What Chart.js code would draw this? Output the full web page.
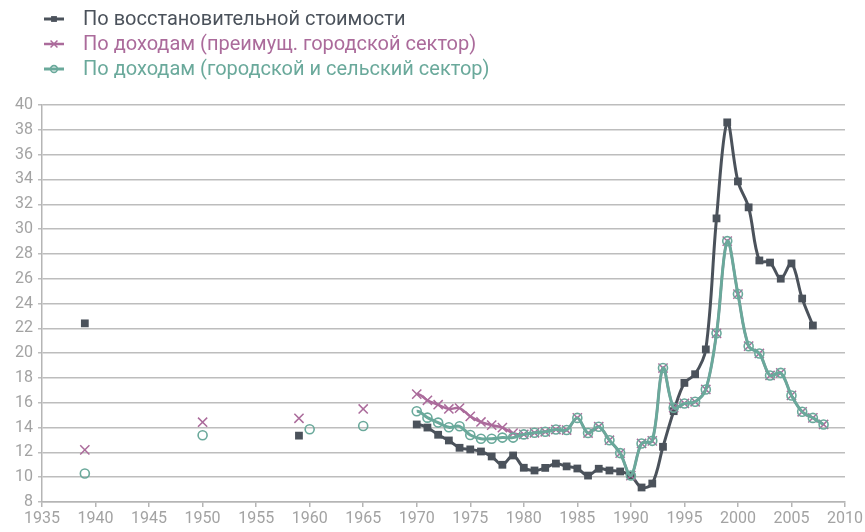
<!DOCTYPE html>
<html>
<head>
<meta charset="utf-8">
<script src="https://cdn.jsdelivr.net/npm/chart.js@4/dist/chart.umd.min.js"></script>
<style>
  html, body { margin: 0; padding: 0; background: #fff; }
  #wrap { width: 865px; height: 532px; }
</style>
</head>
<body>
<div id="wrap"><canvas id="chart"></canvas></div>
<script>
// по восстановительной стоимости
const restYears = [1939, 1959,
    1970, 1971, 1972, 1973, 1974, 1975, 1976, 1977, 1978, 1979,
    1980, 1981, 1982, 1983, 1984, 1985, 1986, 1987, 1988, 1989,
    1990, 1991, 1992, 1993, 1994, 1995, 1996, 1997, 1998, 1999,
    2000, 2001, 2002, 2003, 2004, 2005, 2006, 2007]
const restValues = [22.4, 13.35,
    14.25, 14.0, 13.42, 12.96, 12.37, 12.24, 12.07, 11.67, 11.0, 11.75,
    10.76, 10.54, 10.75, 11.1, 10.87, 10.7, 10.13, 10.68, 10.54, 10.46,
    10.13, 9.17, 9.49, 12.45, 15.32, 17.6, 18.3, 20.3, 30.86, 38.6,
    33.84, 31.75, 27.47, 27.3, 26.0, 27.23, 24.4, 22.23]

// по доходам (преимущ. городской сектор)
const urbanYears = [1939, 1950, 1959, 1965,
    1970, 1971, 1972, 1973, 1974, 1975, 1976, 1977, 1978, 1979,
    1980, 1981, 1982, 1983, 1984, 1985, 1986, 1987, 1988, 1989,
    1990, 1991, 1992, 1993, 1994, 1995, 1996, 1997, 1998, 1999,
    2000, 2001, 2002, 2003, 2004, 2005, 2006, 2007, 2008]
const urbanValues = [12.2, 14.43, 14.75, 15.5,
    16.7, 16.2, 15.84, 15.5, 15.57, 14.9, 14.45, 14.2, 14.0, 13.55,
    13.45, 13.58, 13.66, 13.84, 13.8, 14.78, 13.56, 14.07, 12.98, 11.94,
    10.13, 12.72, 12.93, 18.8, 15.6, 15.94, 16.08, 17.07, 21.6, 29.03,
    24.76, 20.56, 19.97, 18.2, 18.41, 16.59, 15.27, 14.78, 14.25]

// по доходам (городской и сельский сектор)
const allYears = [1939, 1950, 1960, 1965,
    1970, 1971, 1972, 1973, 1974, 1975, 1976, 1977, 1978, 1979,
    1980, 1981, 1982, 1983, 1984, 1985, 1986, 1987, 1988, 1989,
    1990, 1991, 1992, 1993, 1994, 1995, 1996, 1997, 1998, 1999,
    2000, 2001, 2002, 2003, 2004, 2005, 2006, 2007, 2008]
const allValues = [10.3, 13.38, 13.86, 14.13,
    15.32, 14.8, 14.4, 14.02, 14.1, 13.4, 13.1, 13.1, 13.19, 13.19,
    13.45, 13.58, 13.66, 13.84, 13.8, 14.78, 13.56, 14.07, 12.98, 11.94,
    10.13, 12.72, 12.93, 18.8, 15.6, 15.94, 16.08, 17.07, 21.6, 29.03,
    24.76, 20.56, 19.97, 18.2, 18.41, 16.59, 15.27, 14.78, 14.25]

const seriesLabels = [
    'По восстановительной стоимости',
    'По доходам (преимущ. городской сектор)',
    'По доходам (городской и сельский сектор)'
]

const grey = '#4b525b'
const pink = '#ab6b9b'
const teal = '#6aa99b'
const FONT = 'Roboto, "DejaVu Sans", sans-serif'

const toPoints = (xs, ys) => xs.map((x, i) => ({ x: x, y: ys[i] }))

// легенда в три строки, как в оригинале
const stackedLegend = {
    id: 'stackedLegend',
    afterDraw(chart) {
        const ctx = chart.ctx
        chart.data.datasets.forEach((ds, i) => {
            const y = 19 + i * 25
            ctx.save()
            ctx.strokeStyle = ds.borderColor
            ctx.lineWidth = ds.borderWidth
            ctx.beginPath()
            ctx.moveTo(44, y)
            ctx.lineTo(64, y)
            ctx.stroke()
            ctx.fillStyle = ds.pointBackgroundColor
            ctx.strokeStyle = ds.pointBorderColor
            ctx.lineWidth = ds.pointBorderWidth
            Chart.helpers.drawPoint(ctx, {
                pointStyle: ds.pointStyle,
                radius: ds.pointRadius * 0.75,
                borderWidth: ds.pointBorderWidth
            }, 54, y)
            ctx.fillStyle = ds.borderColor
            ctx.font = '20px ' + FONT
            ctx.textBaseline = 'middle'
            ctx.fillText(ds.label, 83, y + 1)
            ctx.restore()
        })
    }
}

const chart = new Chart(document.getElementById('chart'), {
    type: 'line',
    data: {
        datasets: [{
            label: seriesLabels[0],
            data: toPoints(restYears, restValues),
            borderColor: grey,
            borderWidth: 3,
            pointStyle: 'rect',
            pointRadius: 5.5,
            pointBackgroundColor: grey,
            pointBorderColor: grey,
            pointBorderWidth: 0,
            order: 3
        }, {
            label: seriesLabels[1],
            data: toPoints(urbanYears, urbanValues),
            borderColor: pink,
            borderWidth: 2.5,
            pointStyle: 'crossRot',
            pointRadius: 6.5,
            pointBackgroundColor: pink,
            pointBorderColor: pink,
            pointBorderWidth: 1.5,
            order: 2
        }, {
            label: seriesLabels[2],
            data: toPoints(allYears, allValues),
            borderColor: teal,
            borderWidth: 3,
            pointStyle: 'circle',
            pointRadius: 4.5,
            pointBackgroundColor: 'rgba(255,255,255,0)',
            pointBorderColor: teal,
            pointBorderWidth: 1.6,
            order: 1
        }]
    },
    options: {
        responsive: true,
        maintainAspectRatio: false,
        animation: false,
        spanGaps: 1.5,
        elements: { line: { tension: 0.35 } },
        layout: { padding: { top: 105, right: 20, left: 0, bottom: 0 } },
        plugins: {
            legend: { display: false },
            tooltip: { enabled: false }
        },
        scales: {
            x: {
                type: 'linear',
                min: 1935,
                max: 2010,
                border: { color: '#b5b5b5', width: 1.5 },
                grid: { drawOnChartArea: false, drawTicks: true, tickLength: 5, color: '#b5b5b5', lineWidth: 1.5 },
                ticks: {
                    stepSize: 5,
                    padding: 2,
                    maxRotation: 0,
                    color: '#a3a3a3',
                    font: { family: FONT, size: 16 },
                    callback: v => String(v)
                },
                afterFit: s => { s.height = 30 }
            },
            y: {
                min: 8,
                max: 40,
                border: { color: '#b5b5b5', width: 1.5 },
                grid: { color: '#bdbdbd', lineWidth: 1.5, tickLength: 4 },
                ticks: {
                    stepSize: 2,
                    padding: 5,
                    color: '#a3a3a3',
                    font: { family: FONT, size: 16 }
                },
                afterFit: s => { s.width = 42 }
            }
        }
    },
    plugins: [stackedLegend]
})
</script>
</body>
</html>
